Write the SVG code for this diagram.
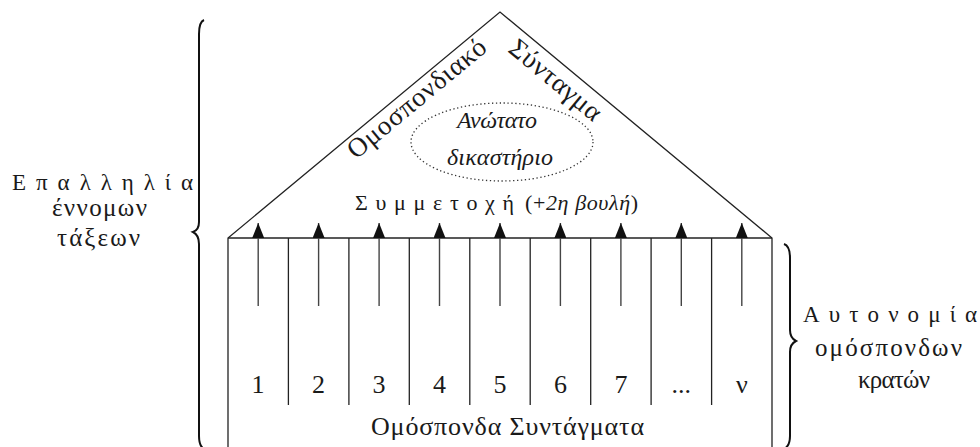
<svg xmlns="http://www.w3.org/2000/svg" width="980" height="447" viewBox="0 0 980 447">
<defs>
<style>
.ln{fill:none;stroke:#222;stroke-width:1.3}
.ar{fill:none;stroke:#444;stroke-width:1.4}
.br{fill:none;stroke:#111;stroke-width:2}
.t{font-family:"Liberation Serif","DejaVu Serif",serif;fill:#1a1a1a}
.i{font-style:italic}
</style>
<marker id="ah" viewBox="0 0 15 12" refX="15" refY="6" markerWidth="15" markerHeight="12" markerUnits="userSpaceOnUse" orient="auto">
<path d="M0,0 L15,6 L0,12 Z" fill="#111"/>
</marker>
</defs>
<rect width="980" height="447" fill="#fff"/>
<g id="house">
<polyline class="ln" points="228,447 228,238 500,12 772,238 772,447"/>
<line class="ln" x1="228" y1="238" x2="772" y2="238"/>
<text class="t" font-size="27" transform="translate(356,160) rotate(-39.7)" textLength="172" lengthAdjust="spacing">Ομοσπονδιακό</text>
<text class="t" font-size="27" transform="translate(507,51) rotate(39.7)" textLength="112" lengthAdjust="spacing">Σύνταγμα</text>
</g>
<g id="court">
<ellipse cx="502" cy="142" rx="91" ry="39" fill="none" stroke="#333" stroke-width="1.3" stroke-dasharray="1.3 2.6"/>
<text class="t i" font-size="24" x="457" y="128" textLength="80" lengthAdjust="spacing">Ανώτατο</text>
<text class="t i" font-size="24" x="447" y="165" textLength="106" lengthAdjust="spacing">δικαστήριο</text>
</g>
<g id="participation">
<text class="t" font-size="22" x="355" y="210" textLength="159" lengthAdjust="spacing">Συμμετοχή</text>
<text class="t" font-size="22" x="525" y="210" textLength="113" lengthAdjust="spacing">(+<tspan class="i">2η βουλή</tspan>)</text>
</g>
<g id="columns">
<g class="ln">
<line x1="288.4" y1="238" x2="288.4" y2="405"/>
<line x1="348.9" y1="238" x2="348.9" y2="405"/>
<line x1="409.3" y1="238" x2="409.3" y2="405"/>
<line x1="469.8" y1="238" x2="469.8" y2="405"/>
<line x1="530.2" y1="238" x2="530.2" y2="405"/>
<line x1="590.7" y1="238" x2="590.7" y2="405"/>
<line x1="651.1" y1="238" x2="651.1" y2="405"/>
<line x1="711.6" y1="238" x2="711.6" y2="405"/>
</g>
<g class="t" font-size="26" text-anchor="middle">
<text x="258" y="393">1</text>
<text x="318.6" y="393">2</text>
<text x="379.1" y="393">3</text>
<text x="439.5" y="393">4</text>
<text x="500" y="393">5</text>
<text x="560.4" y="393">6</text>
<text x="620.9" y="393">7</text>
<text x="681.3" y="393">...</text>
<text x="741.8" y="393">ν</text>
</g>
<text class="t" font-size="26" x="371" y="435" textLength="273" lengthAdjust="spacing">Ομόσπονδα Συντάγματα</text>
</g>
<g id="connectors" class="ar">
<line x1="258.2" y1="306" x2="258.2" y2="223" marker-end="url(#ah)"/>
<line x1="318.6" y1="306" x2="318.6" y2="223" marker-end="url(#ah)"/>
<line x1="379.1" y1="306" x2="379.1" y2="223" marker-end="url(#ah)"/>
<line x1="439.5" y1="306" x2="439.5" y2="223" marker-end="url(#ah)"/>
<line x1="500" y1="306" x2="500" y2="223" marker-end="url(#ah)"/>
<line x1="560.4" y1="306" x2="560.4" y2="223" marker-end="url(#ah)"/>
<line x1="620.9" y1="306" x2="620.9" y2="223" marker-end="url(#ah)"/>
<line x1="681.3" y1="306" x2="681.3" y2="223" marker-end="url(#ah)"/>
<line x1="741.8" y1="306" x2="741.8" y2="223" marker-end="url(#ah)"/>
</g>
<g id="left-label">
<path class="br" d="M204,20 Q199,22 199,34 L199,222 Q199,230 193,232 Q199,235 199,244 L199,436 Q199,446 204,449"/>
<text class="t" font-size="23" x="12" y="190" textLength="181" lengthAdjust="spacing">Επαλληλία</text>
<text class="t" font-size="25" x="52" y="216" textLength="95" lengthAdjust="spacing">έννομων</text>
<text class="t" font-size="25" x="57" y="246" textLength="83" lengthAdjust="spacing">τάξεων</text>
</g>
<g id="right-label">
<path class="br" d="M784,244 Q790,246 790,258 L790,330 Q790,338 796,341 Q790,344 790,352 L790,436 Q790,446 784,449"/>
<text class="t" font-size="23" x="803" y="322" textLength="174" lengthAdjust="spacing">Αυτονομία</text>
<text class="t" font-size="25" x="815" y="356" textLength="147" lengthAdjust="spacing">ομόσπονδων</text>
<text class="t" font-size="25" x="858" y="388" textLength="72" lengthAdjust="spacing">κρατών</text>
</g>
</svg>
